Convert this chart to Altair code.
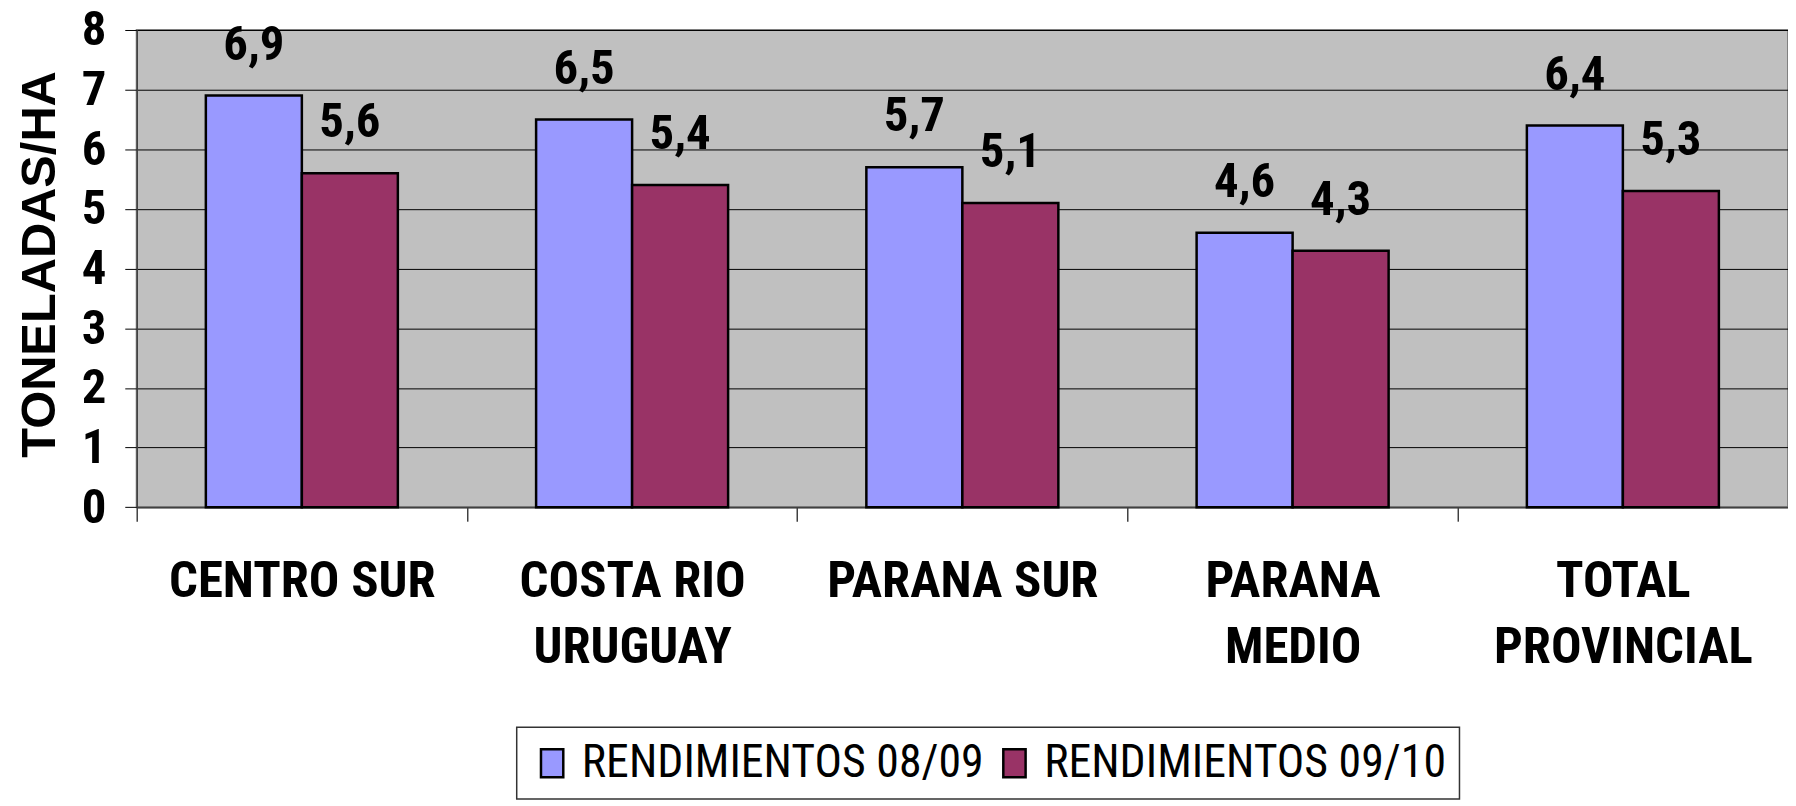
import altair as alt
import pandas as pd

categories = ["CENTRO SUR", "COSTA RIO\nURUGUAY", "PARANA SUR", "PARANA\nMEDIO", "TOTAL\nPROVINCIAL"]
series = ["RENDIMIENTOS 08/09", "RENDIMIENTOS 09/10"]
rend_0809 = [6.9, 6.5, 5.7, 4.6, 6.4]
rend_0910 = [5.6, 5.4, 5.1, 4.3, 5.3]
colors = ["#9999FF", "#993366"]
y_ticks = [0, 1, 2, 3, 4, 5, 6, 7, 8]

rows = []
for name, vals in zip(series, [rend_0809, rend_0910]):
    for c, v in zip(categories, vals):
        rows.append({"region": c, "serie": name, "valor": v})
df = pd.DataFrame(rows)

NARROW = "Roboto Condensed"
WIDE = "Liberation Sans"

base = alt.Chart(df).transform_calculate(
    label="replace(format(datum.valor, '.1f'), '.', ',')"
).encode(
    x=alt.X(
        "region:N",
        sort=categories,
        scale=alt.Scale(paddingInner=0, paddingOuter=0),
        axis=alt.Axis(
            title=None,
            labelExpr="datum.value ? split(datum.value, '\\n') : ''",
            labelAngle=0,
            labelFont=NARROW,
            labelFontSize=51,
            labelFontWeight="bold",
            labelColor="black",
            labelBaseline="top",
            labelLineHeight=66,
            labelPadding=36,
            labelLimit=0,
            labelOverlap=False,
            labelFlush=False,
            tickBand="extent",
            tickSize=14,
            tickColor="#404040",
            tickWidth=1.5,
            domainColor="#404040",
            domainWidth=1.5,
            grid=False,
        ),
    ),
    xOffset=alt.XOffset(
        "serie:N", sort=series, scale=alt.Scale(paddingInner=0, paddingOuter=0.72)
    ),
    y=alt.Y(
        "valor:Q",
        scale=alt.Scale(domain=[0, 8], nice=False),
        axis=alt.Axis(
            title="TONELADAS/HA",
            titleFont=WIDE,
            titleFontSize=49,
            titleFontWeight="bold",
            titleColor="black",
            titleAngle=270,
            titleAlign="center",
            titleBaseline="middle",
            titleX=-98,
            titleY=235,
            values=y_ticks,
            labelFont=NARROW,
            labelFontSize=49,
            labelFontWeight="bold",
            labelColor="black",
            labelPadding=19,
            tickSize=12,
            tickColor="black",
            domainColor="#404040",
            domainWidth=1.5,
            grid=True,
            gridColor="black",
            gridWidth=1,
            gridOpacity=1,
        ),
    ),
)

bars = base.mark_bar(stroke="black", strokeWidth=2.5).encode(
    color=alt.Color(
        "serie:N",
        sort=series,
        scale=alt.Scale(domain=series, range=colors),
        legend=alt.Legend(
            title=None,
            orient="none",
            legendX=381.7,
            legendY=700.5,
            direction="horizontal",
            fillColor="white",
            strokeColor="#333333",
            padding=13,
            labelFont=NARROW,
            labelFontSize=46,
            labelFontWeight="normal",
            labelColor="black",
            labelLimit=800,
            labelOffset=6.4,
            columnPadding=7.4,
            symbolType="M-1.66,-2H1.54V2H-1.66Z",
            symbolSize=196,
            symbolStrokeColor="black",
            symbolStrokeWidth=2.5,
            symbolOpacity=1,
        ),
    )
)

labels = base.mark_text(
    baseline="alphabetic",
    align="center",
    dy=-36,
    font=NARROW,
    fontSize=49,
    fontWeight="bold",
    color="black",
).encode(text="label:N")

chart = (
    (bars + labels)
    .properties(
        width=1658.7,
        height=479.4,
        padding={"left": 129.3, "top": 20.3, "right": 0, "bottom": 298.3},
        autosize=alt.AutoSizeParams(type="none"),
        background="white",
    )
    .configure_view(fill="#C0C0C0", stroke="#808080", strokeWidth=2)
    .configure_legend(strokeWidth=1.5)
)

chart.save("out.html", embed_options={"renderer": "svg", "actions": False})
